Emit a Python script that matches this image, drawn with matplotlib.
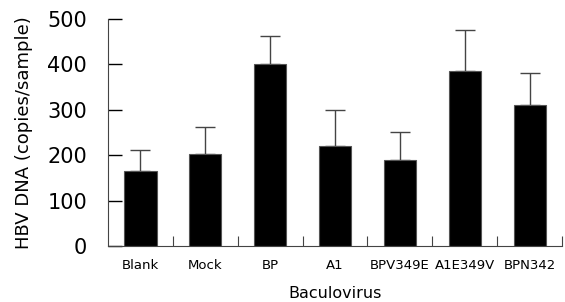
import matplotlib.pyplot as plt
import numpy as np

categories = ['Blank', 'Mock', 'BP', 'A1', 'BPV349E', 'A1E349V', 'BPN342']
means = [165, 203, 400, 220, 189, 385, 310]
upper_err = [46, 59, 62, 80, 62, 90, 71]

fig = plt.figure(figsize=(5.65, 3.02), dpi=100)
ax = fig.add_axes([0.191, 0.185, 0.804, 0.752])

x = np.arange(len(categories))
ax.bar(x, means, width=0.5, color='black', edgecolor='#555555', linewidth=0.8, zorder=2)
ax.errorbar(x, means, yerr=[np.zeros(len(means)), upper_err], fmt='none',
            ecolor='#444444', elinewidth=1, capsize=7, capthick=1, zorder=1)

ax.set_xlim(-0.5, len(categories) - 0.5)
ax.set_ylim(0, 500)
ax.set_yticks([0, 100, 200, 300, 400, 500])
ax.tick_params(axis='y', direction='in', length=10, width=1, labelsize=15, pad=15)

ax.set_xticks(x)
ax.set_xticklabels(categories, fontsize=9.5)
ax.tick_params(axis='x', which='major', length=0, pad=9)
ax.set_xticks(np.arange(0.5, len(categories) + 0.5, 1), minor=True)
ax.tick_params(axis='x', which='minor', direction='in', length=7, width=0.8, color='#444444')

ax.spines['top'].set_visible(False)
ax.spines['right'].set_visible(False)
ax.spines['left'].set_color('#444444')
ax.spines['bottom'].set_color('#444444')

ax.set_xlabel('Baculovirus', fontsize=11.5, labelpad=10)
ax.set_ylabel('HBV DNA (copies/sample)', fontsize=13, labelpad=10)

plt.savefig('out.png', dpi=100)
